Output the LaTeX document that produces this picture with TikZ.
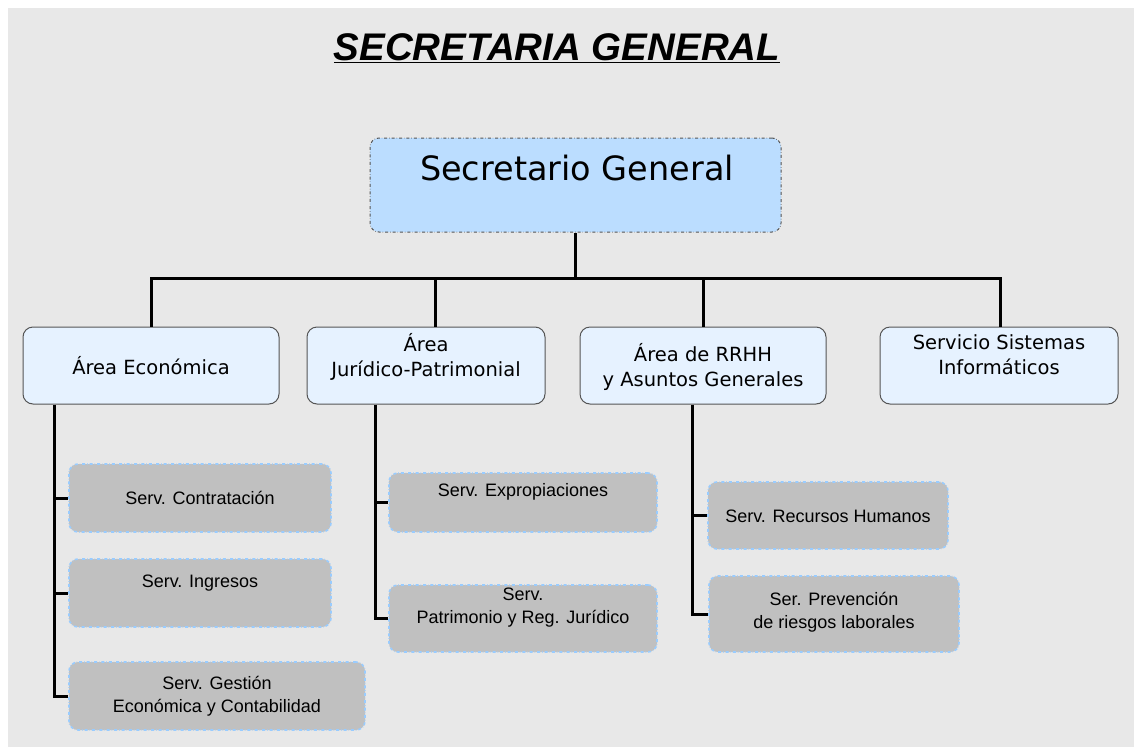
\documentclass[tikz,border=0pt]{standalone}
\usepackage{fontspec}
\setmainfont{Liberation Sans}
\newfontfamily\comic{DejaVu Sans}
\definecolor{bgray}{HTML}{E8E8E8}
\definecolor{topblue}{HTML}{BBDDFF}
\definecolor{areablue}{HTML}{E6F2FF}
\definecolor{servgray}{HTML}{C0C0C0}
\definecolor{servedge}{HTML}{99CCFF}
\definecolor{edgegray}{HTML}{555555}
\tikzset{
  topbox/.style={draw=edgegray, fill=topblue, rounded corners=9pt, dash dot, line width=1pt, inner sep=0pt},
  areabox/.style={draw=edgegray, fill=areablue, rounded corners=10pt, line width=1pt, inner sep=0pt},
  servbox/.style={draw=servedge, fill=servgray, rounded corners=9pt, dash dot, line width=1.6pt, inner sep=0pt},
  areatxt/.style={font=\comic\fontsize{19.5}{25}\selectfont, align=center, inner sep=0pt},
  servtxt/.style={font=\fontsize{18}{23}\selectfont, align=center, inner sep=0pt},
  conn/.style={line width=3pt, black},
}
\begin{document}
\begin{tikzpicture}[x=1pt, y=-1pt]
\useasboundingbox (0,0) rectangle (1134,747);
\fill[bgray] (8,8) rectangle (1134,747);
% title
\node[font=\bfseries\itshape\fontsize{38.5}{44}\selectfont, inner sep=0pt] (title) at (557,48) {\underline{SECRETARIA GENERAL}};
% top
\node[topbox, minimum width=411, minimum height=94] (sg) at (575.5,185) {};
\node[font=\comic\fontsize{33.5}{40}\selectfont, inner sep=0pt] (sgt) at (577,168) {Secretario General};
% areas
\node[areabox, minimum width=256, minimum height=77] (ae) at (151,365.5) {};
\node[areatxt] (aet) at (151,366) {Área Económica};
\node[areabox, minimum width=238, minimum height=77] (aj) at (426,365.5) {};
\node[areatxt] (ajt) at (426,357) {Área\\Jurídico-Patrimonial};
\node[areabox, minimum width=246, minimum height=77] (ar) at (703,365.5) {};
\node[areatxt] (art) at (703,367) {Área de RRHH\\y Asuntos Generales};
\node[areabox, minimum width=238, minimum height=77] (ss) at (999,365.5) {};
\node[areatxt] (sst) at (999,355) {Servicio Sistemas\\Informáticos};
% services
\node[servbox, minimum width=262, minimum height=68] (sc) at (200,498) {};
\node[servtxt] (sct) at (200,498) {Serv. Contratación};
\node[servbox, minimum width=262, minimum height=68] (si) at (200,593) {};
\node[servtxt] (sit) at (200,583) {Serv. Ingresos};
\node[servbox, minimum width=296, minimum height=68] (sgc) at (217,696) {};
\node[servtxt] (sgct) at (217,696) {Serv. Gestión\\Económica y Contabilidad};
\node[servbox, minimum width=268, minimum height=59] (se) at (523,502.5) {};
\node[servtxt] (set) at (523,492) {Serv. Expropiaciones};
\node[servbox, minimum width=268, minimum height=67] (sp) at (523,618.5) {};
\node[servtxt] (spt) at (523,608) {Serv.\\Patrimonio y Reg. Jurídico};
\node[servbox, minimum width=240, minimum height=67] (srh) at (828,515.5) {};
\node[servtxt] (srht) at (828,516) {Serv. Recursos Humanos};
\node[servbox, minimum width=250, minimum height=76] (spr) at (834,614) {};
\node[servtxt] (sprt) at (834,612) {Ser. Prevención\\de riesgos laborales};
% connectors top
\coordinate (hub) at (575,278);
\draw[conn] (sg.south -| hub) -- (hub);
\draw[conn] (ae.north) |- (hub);
\draw[conn] (ss.north -| 1000,0) |- (hub);
\draw[conn] (aj.north -| 435,0) -- (435,278);
\draw[conn] (ar.north) -- (ar.north |- hub);
% area economica
\draw[conn] (ae.south -| 54,0) |- (sgc.west);
\draw[conn] (54,498) -- (sc.west);
\draw[conn] (54,593) -- (si.west);
% juridico
\draw[conn] (aj.south -| 375,0) |- (sp.west);
\draw[conn] (375,502.5) -- (se.west);
% rrhh
\draw[conn] (ar.south -| 692,0) |- (spr.west);
\draw[conn] (692,515.5) -- (srh.west);
\end{tikzpicture}
\end{document}
